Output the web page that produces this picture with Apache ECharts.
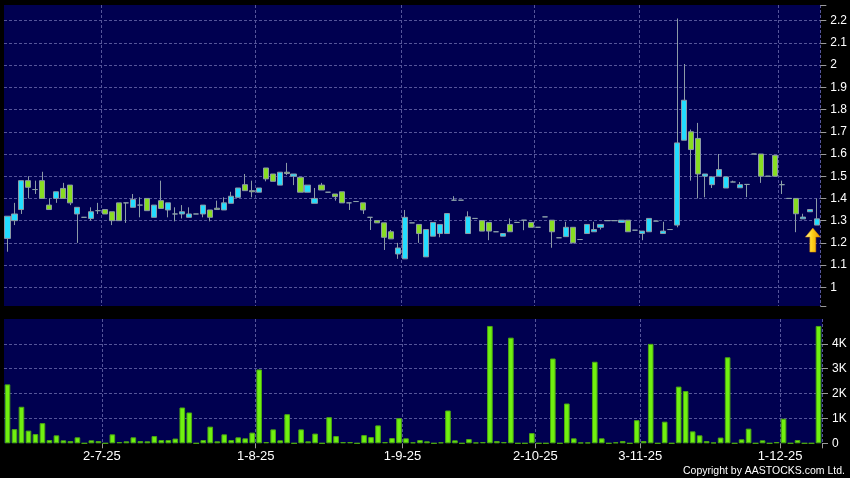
<!DOCTYPE html>
<html>
<head>
<meta charset="utf-8">
<script src="https://cdn.jsdelivr.net/npm/echarts@6/dist/echarts.min.js"></script>
<style>
html,body{margin:0;padding:0;background:#000;}
#c{width:850px;height:478px;}
</style>
</head>
<body>
<div id="c"></div>
<script>
// ---- data (one entry per trading session) ----
const opens = [
1.22, 1.30, 1.35, 1.48, 1.44, 1.48, 1.37, 1.40, 1.445, 1.46,
1.33, 1.315, 1.31, 1.345, 1.35, 1.34, 1.38, 1.38, 1.36, 1.37,
1.40, 1.315, 1.39, 1.348, 1.33, 1.33, 1.315, 1.33, 1.33, 1.348,
1.356, 1.348, 1.378, 1.405, 1.462, 1.435, 1.428, 1.537, 1.51, 1.46,
1.518, 1.50, 1.495, 1.428, 1.378, 1.46, 1.428, 1.42, 1.43, 1.38,
1.386, 1.38, 1.315, 1.30, 1.29, 1.25, 1.15, 1.128, 1.29, 1.283,
1.137, 1.23, 1.242, 1.242, 1.392, 1.392, 1.242, 1.31, 1.30, 1.292,
1.25, 1.23, 1.283, 1.292, 1.302, 1.292, 1.27, 1.317, 1.302, 1.223,
1.228, 1.27, 1.215, 1.242, 1.25, 1.27, 1.30, 1.30, 1.292, 1.302,
1.257, 1.242, 1.25, 1.298, 1.242, 1.26, 1.28, 1.662, 1.70, 1.67,
1.50, 1.462, 1.50, 1.447, 1.474, 1.448, 1.463, 1.60, 1.60, 1.50,
1.594, 1.462, 1.40, 1.40, 1.308, 1.34, 1.28
];
const closes = [
1.32, 1.33, 1.48, 1.45, 1.44, 1.40, 1.35, 1.43, 1.40, 1.38,
1.36, 1.315, 1.34, 1.345, 1.33, 1.30, 1.30, 1.38, 1.395, 1.37,
1.345, 1.37, 1.355, 1.38, 1.33, 1.34, 1.33, 1.33, 1.37, 1.315,
1.35, 1.38, 1.41, 1.447, 1.435, 1.43, 1.447, 1.488, 1.477, 1.518,
1.512, 1.51, 1.428, 1.46, 1.40, 1.438, 1.428, 1.408, 1.38, 1.38,
1.386, 1.348, 1.315, 1.29, 1.225, 1.218, 1.177, 1.315, 1.29, 1.242,
1.26, 1.292, 1.283, 1.332, 1.392, 1.392, 1.317, 1.31, 1.253, 1.253,
1.25, 1.242, 1.25, 1.292, 1.302, 1.27, 1.27, 1.317, 1.25, 1.223,
1.27, 1.20, 1.215, 1.283, 1.26, 1.283, 1.30, 1.30, 1.302, 1.25,
1.257, 1.253, 1.31, 1.298, 1.253, 1.26, 1.65, 1.842, 1.62, 1.51,
1.51, 1.497, 1.53, 1.497, 1.474, 1.462, 1.463, 1.60, 1.50, 1.50,
1.50, 1.462, 1.40, 1.331, 1.316, 1.35, 1.308
];
const lows = [
1.16, 1.28, 1.33, 1.40, 1.42, 1.40, 1.35, 1.38, 1.40, 1.37,
1.20, 1.315, 1.30, 1.33, 1.33, 1.28, 1.30, 1.29, 1.36, 1.315,
1.345, 1.315, 1.355, 1.315, 1.297, 1.31, 1.315, 1.33, 1.315, 1.297,
1.35, 1.348, 1.378, 1.405, 1.435, 1.405, 1.428, 1.477, 1.477, 1.46,
1.505, 1.46, 1.428, 1.428, 1.378, 1.438, 1.428, 1.39, 1.38, 1.348,
1.386, 1.33, 1.258, 1.29, 1.168, 1.218, 1.128, 1.128, 1.29, 1.20,
1.137, 1.23, 1.225, 1.242, 1.392, 1.392, 1.242, 1.31, 1.253, 1.212,
1.25, 1.23, 1.25, 1.292, 1.257, 1.27, 1.27, 1.317, 1.178, 1.223,
1.228, 1.20, 1.215, 1.242, 1.25, 1.26, 1.30, 1.30, 1.292, 1.25,
1.257, 1.212, 1.25, 1.298, 1.242, 1.26, 1.27, 1.662, 1.48, 1.40,
1.405, 1.447, 1.50, 1.447, 1.474, 1.448, 1.406, 1.60, 1.47, 1.50,
1.50, 1.42, 1.40, 1.248, 1.308, 1.34, 1.28
];
const highs = [
1.32, 1.38, 1.48, 1.50, 1.48, 1.52, 1.40, 1.43, 1.47, 1.46,
1.36, 1.315, 1.36, 1.38, 1.35, 1.34, 1.38, 1.38, 1.42, 1.405,
1.40, 1.37, 1.48, 1.38, 1.36, 1.37, 1.36, 1.33, 1.37, 1.348,
1.39, 1.405, 1.43, 1.447, 1.51, 1.48, 1.447, 1.537, 1.51, 1.518,
1.56, 1.51, 1.495, 1.46, 1.447, 1.47, 1.428, 1.42, 1.43, 1.38,
1.386, 1.38, 1.315, 1.30, 1.29, 1.258, 1.20, 1.348, 1.29, 1.283,
1.26, 1.292, 1.283, 1.332, 1.41, 1.392, 1.342, 1.31, 1.30, 1.292,
1.25, 1.242, 1.31, 1.292, 1.302, 1.292, 1.27, 1.317, 1.302, 1.223,
1.295, 1.27, 1.215, 1.283, 1.295, 1.283, 1.30, 1.30, 1.302, 1.302,
1.257, 1.253, 1.31, 1.298, 1.295, 1.26, 2.21, 2.005, 1.71, 1.74,
1.51, 1.497, 1.60, 1.497, 1.48, 1.474, 1.463, 1.60, 1.60, 1.50,
1.594, 1.48, 1.40, 1.40, 1.331, 1.35, 1.40
];
const volumes = [
2370, 570, 1470, 510, 370, 810, 130, 320, 120, 90,
240, 0, 120, 90, 0, 360, 50, 80, 240, 90,
80, 290, 130, 130, 190, 1440, 1240, 0, 130, 670,
80, 360, 130, 240, 200, 430, 2970, 50, 560, 120,
1170, 0, 560, 80, 390, 0, 1050, 290, 50, 50,
0, 330, 250, 720, 50, 210, 1010, 200, 40, 130,
80, 0, 40, 1320, 120, 0, 170, 30, 50, 4720,
90, 50, 4250, 0, 0, 410, 0, 0, 3410, 0,
1600, 200, 30, 30, 3280, 200, 0, 40, 90, 0,
930, 90, 4000, 0, 870, 0, 2280, 2100, 480, 320,
90, 30, 230, 3460, 0, 160, 590, 0, 120, 0,
50, 990, 0, 130, 0, 0, 4720
];
// first session of each month that carries a date label
const tickLabels = ['2-7-25', '1-8-25', '1-9-25', '2-10-25', '3-11-25', '1-12-25'];
const tickSessions = [14, 36, 57, 76, 91, 111];

// ---- build ----
const categories = opens.map(function (_, i) {
  const j = tickSessions.indexOf(i);
  return j >= 0 ? tickLabels[j] : '';
});
const candles = opens.map(function (o, i) { return [o, closes[i], lows[i], highs[i]]; });
const last = opens.length - 1;
const isTick = function (i, v) { return v !== ''; };

const gridLine = { show: true, lineStyle: { color: '#55559a', width: 1, type: [3, 2] } };
const FONT = 'Liberation Sans';

const chart = echarts.init(document.getElementById('c'), null, { renderer: 'canvas' });
chart.setOption({
  animation: false,
  backgroundColor: '#000000',
  textStyle: { fontFamily: FONT },
  grid: [
    { left: 4, right: 28, top: 5, bottom: 172, show: true, backgroundColor: '#000050', borderWidth: 0 },
    { left: 4, right: 28, top: 319, bottom: 34.7, show: true, backgroundColor: '#000050', borderWidth: 0 }
  ],
  xAxis: [
    {
      type: 'category', gridIndex: 0, data: categories, boundaryGap: true,
      axisLine: { show: false }, axisTick: { show: false }, axisLabel: { show: false },
      splitLine: Object.assign({ interval: isTick }, gridLine)
    },
    {
      type: 'category', gridIndex: 1, data: categories, boundaryGap: true,
      axisLine: { show: false },
      axisTick: { show: true, interval: isTick, length: 5, lineStyle: { color: '#9a9a9a' } },
      axisLabel: { show: true, interval: isTick, color: '#ffffff', fontSize: 13, margin: 7,
                   fontFamily: FONT, padding: [0, 7, 0, 0] },
      splitLine: Object.assign({ interval: isTick }, gridLine)
    }
  ],
  yAxis: [
    {
      type: 'value', gridIndex: 0, position: 'right', min: 0.9158, max: 2.2707, splitNumber: 13,
      axisLine: { show: false },
      axisTick: { show: true, length: 6, lineStyle: { color: '#9a9a9a' } },
      axisLabel: {
        color: '#ffffff', fontSize: 12, margin: 10, fontFamily: FONT,
        formatter: function (v) {
          const t = Math.round(v * 10);
          return Math.abs(v * 10 - t) < 1e-6 ? String(t / 10) : '';
        }
      },
      splitLine: Object.assign({ showMinLine: false, showMaxLine: false }, gridLine)
    },
    {
      type: 'value', gridIndex: 1, position: 'right', min: 0, max: 5000, interval: 1000,
      axisLine: { show: false },
      axisTick: { show: true, length: 6, lineStyle: { color: '#9a9a9a' } },
      axisLabel: {
        color: '#ffffff', fontSize: 12, margin: 10, fontFamily: FONT, showMaxLabel: false,
        formatter: function (v) { return v === 0 ? '0' : (v / 1000) + 'K'; }
      },
      splitLine: Object.assign({ showMinLine: false, showMaxLine: false }, gridLine)
    }
  ],
  series: [
    {
      type: 'candlestick', xAxisIndex: 0, yAxisIndex: 0, data: candles, barWidth: 5.6,
      itemStyle: {
        color: '#22DDFF', color0: '#88DD22',
        borderColor: '#8C9AA6', borderColor0: '#8C9AA6', borderColorDoji: '#8CA0A8', borderWidth: 1
      },
      markPoint: {
        silent: true,
        data: [{
          coord: [last, lows[last]],
          symbol: 'path://M7.5,0 L15,9 L10.5,9 L10.5,24 L4.5,24 L4.5,9 L0,9 Z',
          symbolSize: [15, 24], symbolOffset: [-4, 15],
          itemStyle: {
            color: new echarts.graphic.LinearGradient(0, 0, 1, 0, [
              { offset: 0, color: '#FFF7A0' }, { offset: 0.45, color: '#FFD21A' }, { offset: 1, color: '#E89000' }
            ]),
            borderColor: '#D08000', borderWidth: 0.5
          },
          label: { show: false }
        }]
      }
    },
    {
      type: 'bar', xAxisIndex: 1, yAxisIndex: 1, data: volumes, barWidth: 5.6,
      itemStyle: { color: '#70F010', borderColor: '#4CA812', borderWidth: 1 }
    }
  ],
  graphic: [{
    type: 'text', right: 5, bottom: 1,
    style: { text: 'Copyright by AASTOCKS.com Ltd.', fill: '#ffffff', font: '10.5px "Liberation Sans"' }
  }]
});
</script>
</body>
</html>
